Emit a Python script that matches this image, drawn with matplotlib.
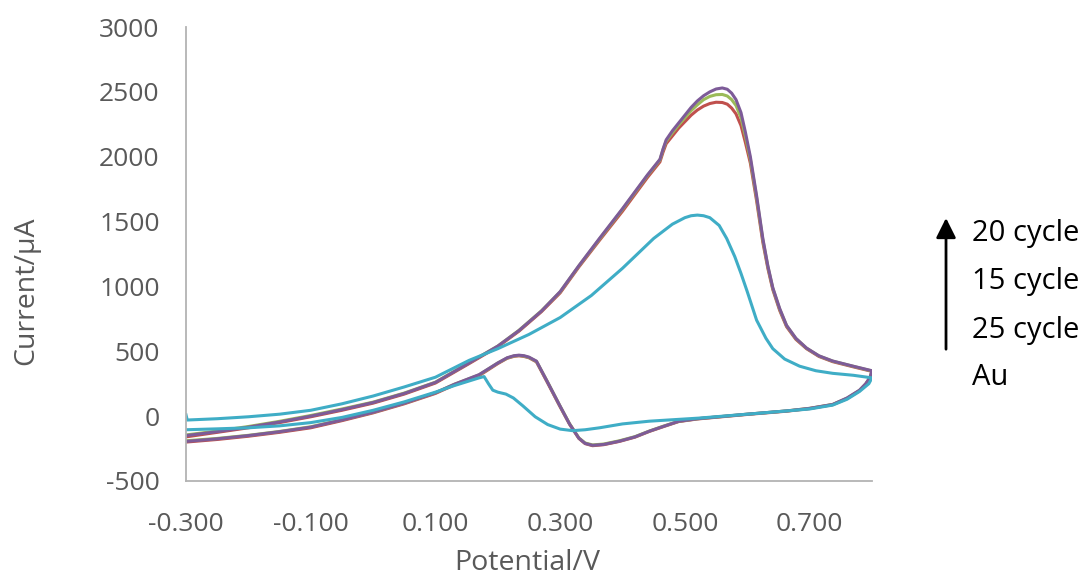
import matplotlib.pyplot as plt
from matplotlib.patches import FancyArrowPatch

plt.rcParams['font.family'] = ['Open Sans', 'DejaVu Sans']
plt.rcParams['axes.unicode_minus'] = False

# Au electrode (forward scan then reverse scan)
au_v = [-0.300, -0.298, -0.25, -0.20, -0.15, -0.10, -0.05, 0.00, 0.05, 0.10, 0.154, 0.20,
        0.25, 0.30, 0.35, 0.40, 0.45, 0.48, 0.50, 0.51, 0.52, 0.53, 0.54, 0.555, 0.567,
        0.58, 0.59, 0.60, 0.615, 0.63, 0.641, 0.66, 0.684, 0.71, 0.737, 0.77, 0.80,
        0.795, 0.78, 0.76, 0.737, 0.70, 0.663, 0.60, 0.523, 0.443, 0.40, 0.363, 0.34,
        0.32, 0.30, 0.28, 0.26, 0.24, 0.225, 0.213, 0.20, 0.192, 0.185, 0.178, 0.17,
        0.13, 0.10, 0.05, 0.00, -0.05, -0.10, -0.15, -0.20, -0.25, -0.30]
au_i = [10, -30, -20, -5, 15, 45, 95, 155, 225, 300, 430, 520,
        630, 760, 930, 1140, 1370, 1480, 1530, 1545, 1550, 1545, 1530, 1470, 1370,
        1230, 1100, 960, 740, 600, 520, 440, 385, 350, 330, 315, 295,
        250, 190, 130, 85, 55, 40, 15, -15, -39, -60, -90, -105,
        -112, -100, -65, -5, 80, 140, 170, 185, 200, 250, 305, 295,
        235, 185, 110, 45, -10, -50, -75, -90, -98, -105]

# potentials shared by the three deposition-cycle scans
cycle_v = [-0.30, -0.25, -0.20, -0.15, -0.10, -0.05, 0.00, 0.05, 0.10, 0.154, 0.20, 0.234,
           0.27, 0.30, 0.33, 0.363, 0.40, 0.44, 0.46, 0.465, 0.47, 0.48, 0.49, 0.50,
           0.51, 0.52, 0.53, 0.54, 0.55, 0.56, 0.568, 0.575, 0.582, 0.59, 0.597, 0.605,
           0.615, 0.625, 0.633, 0.641, 0.652, 0.663, 0.678, 0.695, 0.715, 0.737, 0.77, 0.80,
           0.797, 0.79, 0.78, 0.76, 0.737, 0.70, 0.663, 0.60, 0.52, 0.49, 0.465, 0.443,
           0.42, 0.395, 0.37, 0.352, 0.34, 0.33, 0.315, 0.299, 0.28, 0.262, 0.25, 0.242,
           0.234, 0.226, 0.215, 0.20, 0.17, 0.13, 0.10, 0.05, 0.00, -0.05, -0.10, -0.15,
           -0.20, -0.25, -0.30]

c25_i = [-160, -125, -90, -50, -5, 45, 100, 170, 255, 405, 535, 655,
         805, 950, 1150, 1355, 1580, 1840, 1960, 2035, 2100, 2160, 2220, 2270,
         2320, 2360, 2390, 2410, 2420, 2418, 2405, 2375, 2330, 2240, 2110, 1950,
         1660, 1340, 1140, 975, 815, 690, 592, 520, 460, 420, 380, 345,
         295, 245, 195, 135, 88, 58, 38, 13, -22, -42, -82, -118,
         -162, -195, -220, -228, -212, -172, -62, 80, 255, 418, 450, 460,
         465, 461, 446, 405, 312, 240, 175, 95, 25, -35, -90, -125,
         -155, -180, -200]

c15_i = [-145, -115, -80, -40, 5, 55, 108, 178, 262, 412, 540, 662,
         812, 958, 1158, 1365, 1595, 1855, 1975, 2055, 2120, 2185, 2245, 2300,
         2355, 2400, 2440, 2465, 2478, 2480, 2468, 2440, 2395, 2300, 2160, 1980,
         1685, 1360, 1155, 985, 825, 698, 598, 524, 464, 424, 384, 348,
         298, 248, 198, 138, 90, 60, 40, 15, -20, -40, -78, -115,
         -158, -190, -215, -222, -207, -168, -58, 85, 262, 422, 452, 463,
         468, 464, 448, 410, 318, 245, 180, 100, 30, -28, -82, -118,
         -148, -172, -190]

c20_i = [-150, -120, -85, -45, 0, 50, 105, 175, 260, 410, 540, 660,
         810, 960, 1160, 1370, 1600, 1860, 1980, 2060, 2130, 2200, 2260, 2320,
         2380, 2430, 2470, 2500, 2522, 2530, 2520, 2490, 2440, 2340, 2190, 2000,
         1700, 1370, 1160, 990, 830, 700, 600, 525, 465, 425, 385, 350,
         300, 250, 200, 140, 90, 60, 40, 15, -20, -40, -80, -116,
         -160, -193, -218, -225, -210, -170, -60, 85, 260, 424, 455, 466,
         470, 466, 450, 410, 320, 245, 180, 100, 30, -30, -85, -120,
         -150, -175, -195]

series = [
    (cycle_v, c25_i, '#c0504d'),
    (cycle_v, c15_i, '#9bbb59'),
    (cycle_v, c20_i, '#7d5b98'),
    (au_v, au_i, '#3fadc6'),
]

fig = plt.figure(figsize=(10.89, 5.77), dpi=100)
ax = fig.add_axes([0.1708, 0.1664, 0.6299, 0.7868])

for v, i, c in series:
    ax.plot(v, i, color=c, linewidth=2.2, solid_joinstyle='round')

ax.set_xlim(-0.3, 0.8)
ax.set_ylim(-500, 3000)
ax.set_xticks([-0.3, -0.1, 0.1, 0.3, 0.5, 0.7])
ax.set_xticklabels(['-0.300', '-0.100', '0.100', '0.300', '0.500', '0.700'])
ax.set_yticks(range(-500, 3001, 500))

for side in ['top', 'right']:
    ax.spines[side].set_visible(False)
for side in ['left', 'bottom']:
    ax.spines[side].set_color('#b3b3b3')
    ax.spines[side].set_linewidth(1.3)

ax.tick_params(axis='both', length=0, labelsize=19, labelcolor='#595959')
ax.tick_params(axis='x', pad=22)
ax.tick_params(axis='y', pad=19)

ax.set_xlabel('Potential/V', fontsize=20.5, color='#595959')
ax.set_ylabel('Current/μA', fontsize=20.5, color='#595959')
ax.xaxis.set_label_coords(0.497, -0.150)
ax.yaxis.set_label_coords(-0.213, 0.42)

# arrow + labels to the right of the plot
fig.patches.append(FancyArrowPatch(
    (0.8687, 0.390), (0.8687, 0.627), transform=fig.transFigure,
    arrowstyle='-|>,head_length=0.6,head_width=0.3', mutation_scale=20,
    color='black', linewidth=2))
labels = ['20 cycle', '15 cycle', '25 cycle', 'Au']
ys = [0.5945, 0.5113, 0.428, 0.345]
for t, y in zip(labels, ys):
    fig.text(0.8926, y, t, fontsize=21, color='black', va='center', ha='left')

fig.savefig('out.png', dpi=100)
